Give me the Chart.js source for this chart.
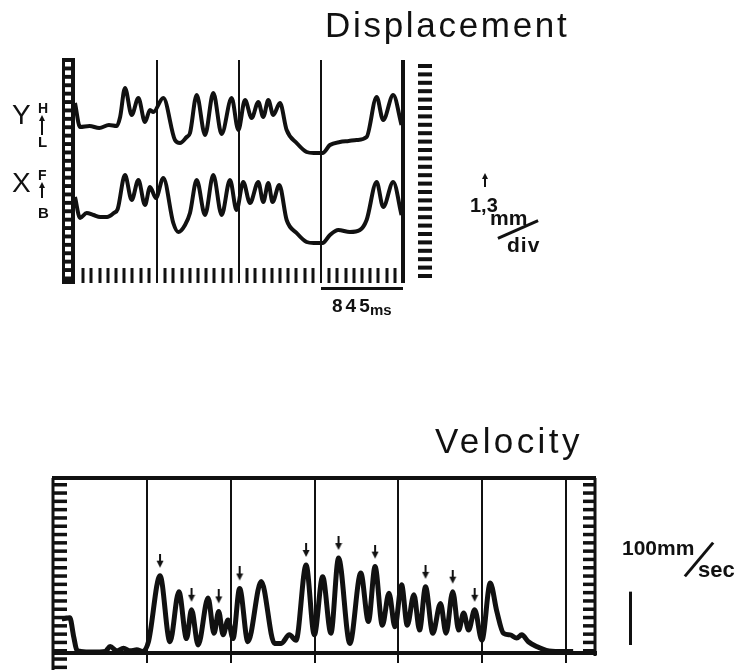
<!DOCTYPE html>
<html>
<head>
<meta charset="utf-8">
<script src="https://cdn.jsdelivr.net/npm/chart.js@4"></script>
<style>
  html, body { margin: 0; padding: 0; background: #fff; }
  body { position: relative; width: 741px; height: 672px; overflow: hidden;
         font-family: "Liberation Sans", Arial, Helvetica, sans-serif; color: #111; }
  canvas { position: absolute; left: 0; }
  .t { position: absolute; white-space: nowrap; line-height: 1; }
  .b { font-weight: bold; }
  .bar { position: absolute; background: #111; }
</style>
</head>
<body>
<canvas id="disp" width="741" height="320" style="top:0"></canvas>
<canvas id="vel" width="741" height="232" style="top:440px"></canvas>

<div class="t" style="left:325px;top:7px;font-size:35px;letter-spacing:2.7px">Displacement</div>
<div class="t" style="left:435px;top:423px;font-size:35px;letter-spacing:3.4px">Velocity</div>

<!-- channel labels -->
<div class="t" style="left:12px;top:101px;font-size:28px">Y</div>
<div class="t b" style="left:38px;top:101px;font-size:14px">H</div>
<div class="t b" style="left:38px;top:134px;font-size:15px">L</div>
<div class="t" style="left:12px;top:169px;font-size:28px">X</div>
<div class="t b" style="left:38px;top:168px;font-size:14px">F</div>
<div class="t b" style="left:38px;top:205px;font-size:15px">B</div>

<!-- displacement scale -->
<div class="t b" style="left:470px;top:195px;font-size:20px">1,3</div>
<div class="t b" style="left:490px;top:207px;font-size:21px">mm</div>
<div class="t b" style="left:507px;top:234px;font-size:21px;letter-spacing:1px">div</div>
<div class="bar" style="left:496px;top:228px;width:44px;height:3px;transform:rotate(-24deg)"></div>
<div class="t b" style="left:332px;top:296px;font-size:19px;letter-spacing:3px">845</div>
<div class="t b" style="left:370px;top:302px;font-size:15px">ms</div>

<!-- velocity scale -->
<div class="t b" style="left:622px;top:537px;font-size:21px">100mm</div>
<div class="bar" style="left:677px;top:558px;width:44px;height:3px;transform:rotate(-50deg)"></div>
<div class="t b" style="left:698px;top:559px;font-size:22px">sec</div>

<script>
// ---- data -----------------------------------------------------------
const DIV_MS = 845;                       // one time division

// displacement traces, vertical position in arbitrary trace units
const Y_MS  = [0, 52, 150, 250, 350, 430, 465, 515, 584, 653, 721, 773, 807, 910, 1030, 1082, 1151, 1185,
               1254, 1340, 1425, 1511, 1614, 1683, 1752, 1820, 1889, 1940, 1992, 2043, 2112, 2181, 2284,
               2387, 2460, 2551, 2627, 2730, 2820, 2902, 3005, 3108, 3176, 3279, 3365];
const Y_POS = [180, 156, 157, 155, 158, 157, 166, 195, 168, 185, 161, 173, 171, 185, 143, 140, 146, 150,
               188, 148, 190, 149, 185, 153, 183, 165, 181, 166, 183, 168, 180, 153, 140,
               131, 130, 130, 138, 141, 142, 143, 146, 186, 163, 188, 158];

const X_MS  = [0, 52, 120, 190, 260, 330, 400, 440, 515, 584, 653, 721, 773, 834, 910, 1013, 1065, 1134,
               1185, 1254, 1340, 1425, 1511, 1597, 1665, 1734, 1803, 1889, 1940, 1992, 2036, 2105, 2181,
               2284, 2387, 2460, 2551, 2627, 2713, 2833, 2936, 3005, 3108, 3176, 3279, 3365];
const X_POS = [86, 65, 70, 68, 66, 66, 70, 74, 108, 83, 103, 78, 96, 85, 105, 60, 51, 58,
               70, 103, 68, 108, 68, 103, 73, 101, 80, 101, 81, 100, 81, 98, 63,
               50, 41, 40, 40, 48, 53, 51, 53, 63, 101, 76, 101, 68];

// velocity trace, mm/sec
const VEL_MS  = [-10, 70, 110, 140, 180, 300, 427, 477, 544, 611, 678, 745, 801, 862, 979, 1079, 1169,
                 1246, 1296, 1363, 1463, 1523, 1570, 1614, 1664, 1714, 1781, 1864, 1998, 2132, 2199,
                 2282, 2349, 2450, 2533, 2617, 2700, 2777, 2891, 3001, 3078, 3145, 3218, 3285, 3345,
                 3412, 3469, 3536, 3593, 3653, 3726, 3804, 3860, 3927, 3987, 4037, 4087, 4148, 4221,
                 4305, 4371, 4438, 4505, 4572, 4622, 4689, 4772, 4870, 5000, 5140];
const VEL_MMS = [64, 66, 30, 6, 3, 2, 3, 12, 4, 9, 4, 6, 3, 21, 145, 21, 115,
                 27, 81, 15, 103, 37, 78, 34, 62, 27, 121, 21, 134, 18, 18,
                 34, 24, 165, 34, 143, 37, 178, 18, 150, 59, 162, 52, 112, 49,
                 128, 52, 109, 43, 124, 37, 93, 37, 115, 43, 75, 43, 81, 24,
                 131, 78, 37, 34, 28, 34, 21, 12, 5, 3, 3];

// peaks marked with a small arrow
const ARROW_MS = [979, 1296, 1570, 1781, 2450, 2777, 3145, 3653, 3927, 4148];

// grid / tick positions
const DISP_TICKS = Array.from({ length: 40 }, (_, i) => (i + 1) * DIV_MS / 10);
const VEL_GRID_MS = [1, 2, 3, 4, 5, 6].map((k) => k * DIV_MS);
const SCALE_MMS = [15, 115];              // 100 mm/sec calibration bar

// ---- helpers --------------------------------------------------------
const INK = '#111';
const pts = (xs, ys) => xs.map((x, i) => ({ x, y: ys[i] }));
const isMajor = (v) => Math.abs(v / DIV_MS - Math.round(v / DIV_MS)) < 1e-6;

function arrowGlyph() {
  const c = document.createElement('canvas');
  c.width = 8; c.height = 44;
  const g = c.getContext('2d');
  g.fillStyle = INK;
  g.fillRect(3, 0, 2, 10);
  g.beginPath(); g.moveTo(0.5, 7); g.lineTo(7.5, 7); g.lineTo(4, 14); g.closePath(); g.fill();
  return c;
}

function trace(data, width) {
  return {
    data, borderColor: INK, borderWidth: width, pointRadius: 0,
    cubicInterpolationMode: 'monotone', fill: false,
  };
}

// film strip, comb and scale bar around the displacement record
const dispDecor = {
  id: 'dispDecor',
  afterDraw(chart) {
    const { ctx, chartArea: a, scales: { x } } = chart;
    ctx.save();
    ctx.fillStyle = INK;
    ctx.fillRect(a.left - 13, a.top - 2, 13, a.bottom - a.top + 18);
    ctx.fillStyle = '#fff';
    for (let py = a.top + 2; py < a.bottom + 12; py += 8.4) ctx.fillRect(a.left - 10, py, 6, 4.5);
    ctx.fillStyle = INK;
    for (let py = a.top + 4; py < a.bottom + 13; py += 8.4) ctx.fillRect(a.right + 15, py, 14, 4);
    const x0 = x.getPixelForValue(3 * DIV_MS), x1 = x.getPixelForValue(4 * DIV_MS);
    ctx.fillRect(x0, a.bottom + 19, x1 - x0, 3);
    ctx.restore();
  },
};

// frame, combs and calibration bar around the velocity record
const velDecor = {
  id: 'velDecor',
  afterDraw(chart) {
    const { ctx, chartArea: a, scales: { y } } = chart;
    ctx.save();
    ctx.strokeStyle = INK;
    ctx.fillStyle = INK;
    ctx.lineWidth = 3;
    ctx.beginPath();
    ctx.moveTo(a.left, a.bottom + 17);
    ctx.lineTo(a.left, a.top);
    ctx.stroke();
    ctx.beginPath();
    ctx.moveTo(a.right, a.top);
    ctx.lineTo(a.right, a.bottom + 3);
    ctx.stroke();
    ctx.lineWidth = 4;
    ctx.beginPath();
    ctx.moveTo(a.left - 1, a.top);
    ctx.lineTo(a.right + 1, a.top);
    ctx.moveTo(a.left, a.bottom);
    ctx.lineTo(a.right + 2, a.bottom);
    ctx.stroke();
    for (let py = a.top + 5; py < a.bottom + 15; py += 8.3) ctx.fillRect(a.left, py, 14, 3.5);
    for (let py = a.top + 5; py < a.bottom - 2; py += 8.3) ctx.fillRect(a.right - 12, py, 12, 3.5);
    const y0 = y.getPixelForValue(SCALE_MMS[0]), y1 = y.getPixelForValue(SCALE_MMS[1]);
    ctx.fillRect(a.right + 34, y1, 3, y0 - y1);
    ctx.restore();
  },
};

const common = {
  responsive: false,
  animation: false,
  devicePixelRatio: 1,
  events: [],
  plugins: { legend: { display: false }, tooltip: { enabled: false } },
};

new Chart(document.getElementById('disp'), {
  type: 'line',
  data: { datasets: [trace(pts(Y_MS, Y_POS), 4), trace(pts(X_MS, X_POS), 4)] },
  options: {
    ...common,
    layout: { padding: { left: 75, right: 338, top: 60, bottom: 37 } },
    scales: {
      x: {
        type: 'linear', min: 0, max: 4 * DIV_MS,
        afterBuildTicks: (s) => { s.ticks = DISP_TICKS.map((v) => ({ value: v })); },
        ticks: { display: false },
        border: { display: false },
        grid: {
          color: (c) => (isMajor(c.tick.value) ? INK : 'rgba(0,0,0,0)'),
          lineWidth: (c) => (c.tick.value >= 4 * DIV_MS - 1 ? 4 : 2),
          tickColor: INK,
          tickWidth: (c) => (isMajor(c.tick.value) ? (c.tick.value >= 4 * DIV_MS - 1 ? 4 : 2) : 3),
          tickLength: 15,
        },
      },
      y: { display: false, min: 15, max: 223 },
    },
  },
  plugins: [dispDecor],
});

const arrowImg = arrowGlyph();
new Chart(document.getElementById('vel'), {
  type: 'line',
  data: {
    datasets: [
      trace(pts(VEL_MS, VEL_MMS), 5),
      {
        data: ARROW_MS.map((t) => ({ x: t, y: VEL_MMS[VEL_MS.indexOf(t)] })),
        showLine: false, pointStyle: arrowImg, pointRadius: 3,
      },
    ],
  },
  options: {
    ...common,
    layout: { padding: { left: 53, right: 146, top: 38, bottom: 9 } },
    scales: {
      x: {
        type: 'linear', min: -99, max: 5360,
        afterBuildTicks: (s) => { s.ticks = VEL_GRID_MS.map((v) => ({ value: v })); },
        ticks: { display: false },
        border: { display: false },
        grid: { color: INK, lineWidth: 2, tickColor: INK, tickWidth: 2, tickLength: 10 },
      },
      y: { display: false, min: 0, max: 328 },
    },
  },
  plugins: [velDecor],
});

// small up-arrows beside the channel letters and the mm/div label
[[42, 115, 20], [42, 182, 16], [485, 173, 14]].forEach(([x, y, h]) => {
  const shaft = document.createElement('div');
  shaft.className = 'bar';
  shaft.style.cssText = `left:${x - 1}px;top:${y + 4}px;width:2px;height:${h - 4}px`;
  const head = document.createElement('div');
  head.style.cssText = `position:absolute;left:${x - 3}px;top:${y}px;width:0;height:0;` +
    'border-left:3px solid transparent;border-right:3px solid transparent;border-bottom:6px solid #111';
  document.body.append(shaft, head);
});
</script>
</body>
</html>
